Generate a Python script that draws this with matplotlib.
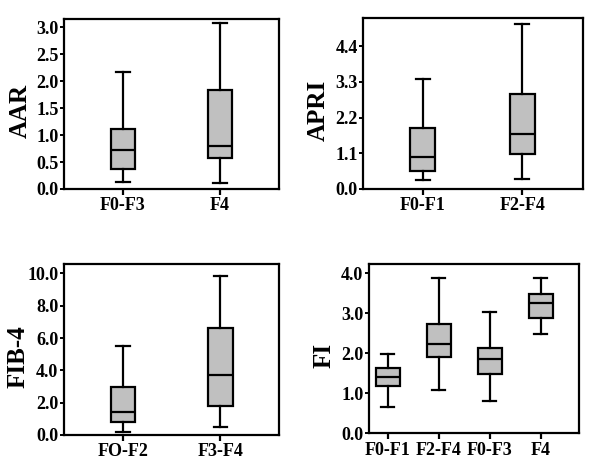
import matplotlib
matplotlib.use("Agg")
import matplotlib.pyplot as plt

plt.rcParams['font.family'] = ['Liberation Serif', 'DejaVu Serif']
plt.rcParams['font.weight'] = 'bold'

# AAR
aar_cats = ["F0-F3", "F4"]
aar_low = [0.13, 0.11]
aar_q1 = [0.37, 0.57]
aar_med = [0.72, 0.80]
aar_q3 = [1.11, 1.83]
aar_high = [2.17, 3.09]

# APRI
apri_cats = ["F0-F1", "F2-F4"]
apri_low = [0.28, 0.30]
apri_q1 = [0.55, 1.08]
apri_med = [0.99, 1.69]
apri_q3 = [1.88, 2.93]
apri_high = [3.38, 5.07]

# FIB-4
fib_cats = ["FO-F2", "F3-F4"]
fib_low = [0.21, 0.52]
fib_q1 = [0.80, 1.77]
fib_med = [1.42, 3.71]
fib_q3 = [2.95, 6.60]
fib_high = [5.51, 9.86]

# FI
fi_cats = ["F0-F1", "F2-F4", "F0-F3", "F4"]
fi_low = [0.67, 1.08, 0.80, 2.49]
fi_q1 = [1.18, 1.90, 1.48, 2.87]
fi_med = [1.40, 2.23, 1.85, 3.25]
fi_q3 = [1.62, 2.73, 2.13, 3.48]
fi_high = [1.98, 3.87, 3.03, 3.87]

fig = plt.figure(figsize=(6, 4.7), dpi=100)

def panel(rect, cats, low, q1, med, q3, high, ylabel, ylim, yticks, ylabels, xlim, width, lx):
    ax = fig.add_axes(rect)
    stats = []
    for c, l, a, m, b, h in zip(cats, low, q1, med, q3, high):
        stats.append(dict(label=c, whislo=l, q1=a, med=m, q3=b, whishi=h, fliers=[]))
    pos = list(range(1, len(cats) + 1))
    ax.bxp(stats, positions=pos, widths=width, patch_artist=True, showfliers=False,
           capwidths=width * 0.55,
           boxprops=dict(facecolor='#c0c0c0', edgecolor='black', linewidth=1.6),
           medianprops=dict(color='black', linewidth=1.6),
           whiskerprops=dict(color='black', linewidth=1.6),
           capprops=dict(color='black', linewidth=1.6))
    ax.set_xlim(*xlim)
    ax.set_ylim(*ylim)
    ax.set_yticks(yticks)
    ax.set_yticklabels(ylabels)
    ax.set_xticks(pos)
    ax.set_xticklabels(cats)
    for s in ax.spines.values():
        s.set_linewidth(1.6)
    ax.tick_params(axis='y', direction='out', width=1.4, length=3, labelsize=13, pad=1)
    ax.tick_params(axis='x', direction='out', width=1.6, length=4, labelsize=13, pad=2)
    for t in ax.get_xticklabels() + ax.get_yticklabels():
        t.set_fontweight('bold')
    ax.set_ylabel(ylabel, fontsize=18, fontweight='bold')
    ax.yaxis.set_label_coords(lx, 0.46)
    return ax

panel([0.1067, 0.598, 0.358, 0.362], aar_cats, aar_low, aar_q1, aar_med, aar_q3, aar_high,
      "AAR", (0, 3.16), [0, 0.5, 1.0, 1.5, 2.0, 2.5, 3.0],
      ["0.0", "0.5", "1.0", "1.5", "2.0", "2.5", "3.0"], (0.394, 2.606), 0.25, -0.15)
panel([0.6055, 0.598, 0.366, 0.363], apri_cats, apri_low, apri_q1, apri_med, apri_q3, apri_high,
      "APRI", (0, 5.26), [0, 1.1, 2.2, 3.3, 4.4],
      ["0.0", "1.1", "2.2", "3.3", "4.4"], (0.40, 2.61), 0.25, -0.155)
panel([0.1067, 0.0745, 0.359, 0.363], fib_cats, fib_low, fib_q1, fib_med, fib_q3, fib_high,
      "FIB-4", (0, 10.56), [0, 2, 4, 6, 8, 10],
      ["0.0", "2.0", "4.0", "6.0", "8.0", "10.0"], (0.394, 2.606), 0.25, -0.16)
panel([0.615, 0.078, 0.3505, 0.36], fi_cats, fi_low, fi_q1, fi_med, fi_q3, fi_high,
      "FI", (0, 4.225), [0, 1, 2, 3, 4],
      ["0.0", "1.0", "2.0", "3.0", "4.0"], (0.635, 4.757), 0.47, -0.16)

fig.savefig("out.png", dpi=100)
